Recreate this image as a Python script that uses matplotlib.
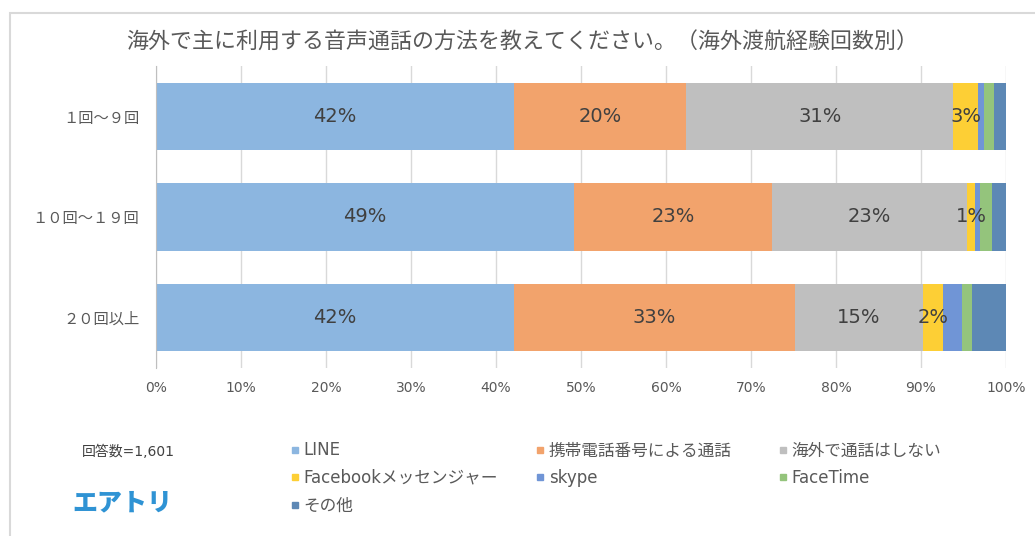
import matplotlib.pyplot as plt
from matplotlib.lines import Line2D
from matplotlib.patches import Rectangle

plt.rcParams['font.family'] = ['DejaVu Sans', 'Noto Sans CJK JP']

groups = ['１回～９回', '１０回～１９回', '２０回以上']
methods = ['LINE', '携帯電話番号による通話', '海外で通話はしない',
           'Facebookメッセンジャー', 'skype', 'FaceTime', 'その他']
line_v = [42.1, 49.2, 42.1]
phone_v = [20.3, 23.3, 33.1]
none_v = [31.4, 22.9, 15.0]
fb_v = [2.9, 1.0, 2.4]
skype_v = [0.7, 0.5, 2.2]
facetime_v = [1.2, 1.5, 1.2]
other_v = [1.4, 1.6, 4.0]
labels_shown = [['42%', '20%', '31%', '3%'],
                ['49%', '23%', '23%', '1%'],
                ['42%', '33%', '15%', '2%']]
colors = ['#8cb6e0', '#f2a36c', '#bfbfbf', '#fdcf35', '#7095d6', '#94c47c', '#5d88b5']

series = [line_v, phone_v, none_v, fb_v, skype_v, facetime_v, other_v]
txt = '#595959'

fig = plt.figure(figsize=(10.35, 5.36), dpi=100)
ax = fig.add_axes([156 / 1035, 1 - 368 / 536, 850 / 1035, 302 / 536])

y = list(range(len(groups)))
left = [0.0] * len(groups)
for i, vals in enumerate(series):
    bars = ax.barh(y, vals, left=left, height=0.67, color=colors[i], zorder=2)
    if i < 4:
        for j, b in enumerate(bars):
            cx = b.get_x() + b.get_width() / 2
            ax.text(cx, j, labels_shown[j][i], ha='center', va='center',
                    fontsize=14, color='#404040', zorder=3)
    left = [l + v for l, v in zip(left, vals)]

ax.set_xlim(0, 100)
ax.set_ylim(2.5, -0.5)
ax.set_xticks(range(0, 101, 10))
ax.set_xticklabels([f'{t}%' for t in range(0, 101, 10)])
ax.set_yticks(y)
ax.set_yticklabels(groups, family=['Noto Sans CJK JP'])
ax.tick_params(axis='x', length=0, labelsize=10, labelcolor=txt, pad=9)
ax.tick_params(axis='y', length=0, labelsize=11, labelcolor=txt, pad=12)
ax.grid(axis='x', color='#d9d9d9', lw=1, zorder=0)
for s in ['top', 'right', 'bottom']:
    ax.spines[s].set_visible(False)
ax.spines['left'].set_color('#bfbfbf')
ax.spines['left'].set_zorder(4)

fig.text(522 / 1035, 1 - 43 / 536, '海外で主に利用する音声通話の方法を教えてください。（海外渡航経験回数別）',
         ha='center', va='center', fontsize=15.8, color=txt, family=['Noto Sans CJK JP'])

# legend, filled row by row like the original
handles = [Line2D([], [], marker='s', ls='none', color=c, markersize=5) for c in colors]
columns = [[0, 3, 6], [1, 4], [2, 5]]
col_x = [282, 527, 770]
for cx, idx in zip(col_x, columns):
    fig.legend([handles[k] for k in idx], [methods[k] for k in idx],
               loc='upper left', bbox_to_anchor=(cx / 1035, 1 - 433 / 536),
               frameon=False, fontsize=12, labelcolor=txt, handlelength=0.6,
               handletextpad=0.2, labelspacing=0.58, borderpad=0)

fig.text(128 / 1035, 1 - 452 / 536, '回答数=1,601', ha='center', va='center',
         fontsize=10, color='#404040')
fig.text(122 / 1035, 1 - 502 / 536, 'エアトリ', ha='center', va='center',
         fontsize=18, fontweight='heavy', color='#2f93d4', family=['Noto Sans CJK JP'])

fig.patches.append(Rectangle((10 / 1035, -0.1), 1.2, 1 - 13 / 536 + 0.1,
                             transform=fig.transFigure, fill=False,
                             edgecolor='#d9d9d9', lw=1.5))

fig.savefig('out.png', dpi=100)
